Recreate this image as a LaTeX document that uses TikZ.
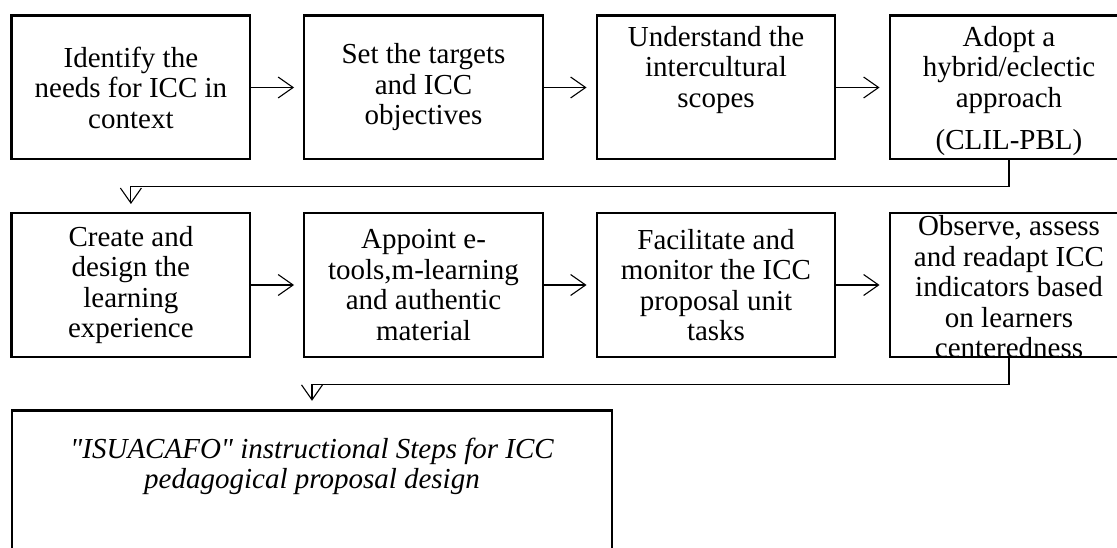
\documentclass[tikz,border=0pt]{standalone}
\usepackage{fontspec}
\setmainfont{Liberation Serif}[Ligatures=TeXOff]
\usetikzlibrary{arrows.meta}
\newcommand\topbox[4]{\begin{minipage}[c][#1][t]{#2}\centering\vspace*{#3}#4\end{minipage}}
\begin{document}
\begin{tikzpicture}[x=1pt,y=-1pt,
  box/.style={draw, line width=2.4pt, minimum width=238.5pt, minimum height=143.6pt,
    inner sep=0pt, align=center, font=\fontsize{29}{30.5}\selectfont},
  bigbox/.style={box, minimum width=600pt, minimum height=200pt},
  conn/.style={line width=1.1pt, -{Straight Barb[length=15pt,width=21pt,line width=1.1pt]}}]
\useasboundingbox (0,0) rectangle (1117,548);
\fill[white] (0,0) rectangle (1117,548);
\clip (0,0) rectangle (1117,548);

% row 1
\node[box] (b1) at (130.9,87.5) {Identify the\\needs for ICC in\\context};
\node[box] (b2) at (423.5,87.5) {Set the targets\\and ICC\\objectives};
\node[box] (b3) at (716,87.5) {\topbox{143.6pt}{236pt}{9pt}{\strut Understand the\\intercultural\\scopes}};
\node[box] (b4) at (1009,87.5) {\topbox{143.6pt}{236pt}{9pt}{\strut Adopt a\\hybrid/eclectic\\approach\\[11.5pt](CLIL-PBL)}};

% row 2
\node[box] (b5) at (130.9,285) {Create and\\design the\\learning\\experience};
\node[box] (b6) at (423.5,285) {Appoint e-\\tools,m-learning\\and authentic\\material};
\node[box] (b7) at (716,285) {Facilitate and\\monitor the ICC\\proposal unit\\tasks};
\node[box] (b8) at (1009,285) {\topbox{143.6pt}{236pt}{1.4pt}{\strut Observe, assess\\and readapt ICC\\indicators based\\on learners\\centeredness}};

% row 3
\node[bigbox, font=\fontsize{29}{27}\selectfont\itshape] (b9) at (312,510.5)
  {\topbox{200pt}{590pt}{28pt}{\strut "ISUACAFO" instructional Steps for ICC\\pedagogical proposal design}};

% connectors
\draw[conn, shorten >=9pt] (b1) -- (b2);
\draw[conn, shorten >=9pt] (b2) -- (b3);
\draw[conn, shorten >=9pt] (b3) -- (b4);
\draw[conn, shorten >=8pt] (b4.south) -- ++(0,26.4) -| (b5.north);
\draw[conn, shorten >=9pt] (b5) -- (b6);
\draw[conn, shorten >=9pt] (b6) -- (b7);
\draw[conn, shorten >=9pt] (b7) -- (b8);
\draw[conn, shorten >=8.5pt] (b8.south) -- ++(0,26.6) -| (b9.north);
\end{tikzpicture}
\end{document}
